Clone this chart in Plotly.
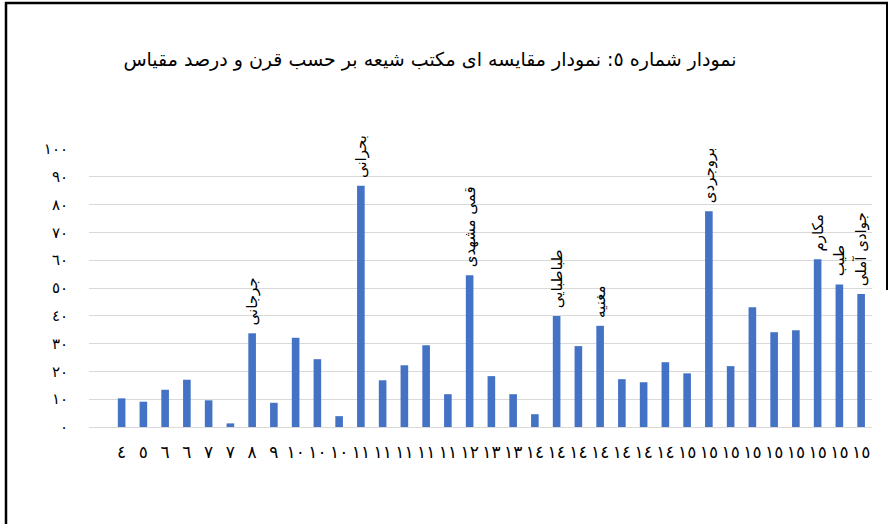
import plotly.graph_objects as go

# Category (century) tick labels, one per bar
centuries = ["٤", "٥", "٦", "٦", "٧", "٧", "٨", "٩",
             "١٠", "١٠", "١٠",
             "١١", "١١", "١١", "١١", "١١",
             "١٢",
             "١٣", "١٣",
             "١٤", "١٤", "١٤", "١٤", "١٤", "١٤", "١٤",
             "١٥", "١٥", "١٥", "١٥", "١٥", "١٥", "١٥", "١٥", "١٥"]

# Percentage values
values = [10.3, 9.1, 13.4, 17.0, 9.6, 1.3, 33.7, 8.7, 32.1, 24.4, 3.9,
          86.8, 16.8, 22.2, 29.4, 11.8, 54.6, 18.3, 11.8, 4.6, 39.9,
          29.1, 36.4, 17.2, 16.1, 23.3, 19.3, 77.6, 21.9, 43.1, 34.1,
          34.8, 60.3, 51.3, 47.8]

# Names shown above selected bars (empty = no label)
names = ["", "", "", "", "", "", "جرجانی", "", "", "", "",
         "بحرانی", "", "", "", "", "قمی مشهدی", "", "", "", "طباطبایی",
         "", "مغنیه", "", "", "", "", "بروجردی", "", "", "",
         "", "مکارم", "طیب", "جوادی آملی"]

y_ticks = [0, 10, 20, 30, 40, 50, 60, 70, 80, 90, 100]
y_tick_text = ["٠", "١٠", "٢٠", "٣٠", "٤٠", "٥٠", "٦٠", "٧٠", "٨٠", "٩٠", "١٠٠"]

title_text = "نمودار شماره ٥: نمودار مقایسه ای مکتب شیعه بر حسب قرن و درصد مقیاس"

positions = list(range(len(values)))
FONT = "DejaVu Sans"

fig = go.Figure(go.Bar(
    x=positions, y=values,
    marker=dict(color="#4472C4", line=dict(width=0)),
    hoverinfo="x+y",
))

annotations = []
for p, v, n in zip(positions, values, names):
    if n:
        annotations.append(dict(
            x=p, y=v, xref="x", yref="y", text=n, textangle=-90,
            showarrow=False, xanchor="center", yanchor="bottom", yshift=6,
            font=dict(family=FONT, size=15, color="#000000"),
        ))

# plot area: left 89px, right 872px, top 149px, bottom 427px
L, R, T, B = 89, 872, 149, 427
W, H = R - L, B - T

def px_x(px):
    return (px - L) / W

def px_y(py):
    return (B - py) / H

shapes = [
    dict(type="line", xref="paper", yref="paper", x0=px_x(6), x1=px_x(6),
         y0=px_y(2), y1=px_y(540), line=dict(color="black", width=2.5)),
    dict(type="line", xref="paper", yref="paper", x0=px_x(5), x1=px_x(888),
         y0=px_y(3), y1=px_y(3), line=dict(color="black", width=2.5)),
    dict(type="line", xref="paper", yref="paper", x0=px_x(887), x1=px_x(887),
         y0=px_y(2), y1=px_y(290), line=dict(color="black", width=2)),
]

fig.update_layout(
    width=893, height=524,
    margin=dict(l=L, r=893 - R, t=T, b=524 - B, pad=0),
    paper_bgcolor="white", plot_bgcolor="white",
    showlegend=False,
    bargap=0.65,
    title=dict(text=title_text, x=430 / 893, xanchor="center", xref="container",
               y=1 - 59 / 524, yanchor="middle", yref="container",
               font=dict(family=FONT, size=19, color="#000000")),
    xaxis=dict(range=[-1.5, len(values) - 0.5], tickmode="array",
               tickvals=positions, ticktext=centuries, tickangle=0,
               showgrid=False, showline=True, linecolor="#d9d9d9", linewidth=1,
               ticks="", ticklabelstandoff=10, zeroline=False,
               tickfont=dict(family=FONT, size=17, color="#000000")),
    yaxis=dict(range=[0, 100], tickmode="array", tickvals=y_ticks,
               ticktext=y_tick_text, showgrid=True, gridcolor="#d9d9d9",
               gridwidth=1, zeroline=False, showline=False, ticks="",
               ticklabelstandoff=20,
               tickfont=dict(family=FONT, size=15, color="#000000")),
    annotations=annotations,
    shapes=shapes,
)

fig.write_html(
    "out.html",
    config={"displayModeBar": False},
    post_script="document.body.style.margin='0';document.body.style.padding='0';",
)
